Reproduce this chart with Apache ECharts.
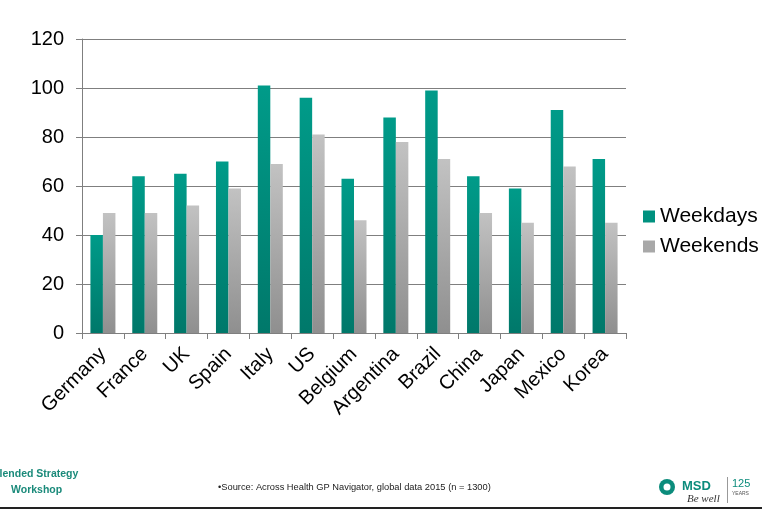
<!DOCTYPE html>
<html><head><meta charset="utf-8">
<script src="https://cdn.jsdelivr.net/npm/echarts@6/dist/echarts.min.js"></script>
<style>html,body{margin:0;padding:0;background:#fff}#c{width:762px;height:512px}</style>
</head><body><div id="c"></div>
<script>
const categories = ['Germany','France','UK','Spain','Italy','US','Belgium','Argentina','Brazil','China','Japan','Mexico','Korea'];
const weekdays = [40,64,65,70,101,96,63,88,99,64,59,91,71];
const weekends = [49,49,52,59,69,81,46,78,71,49,45,68,45];
const yTicks = [0,20,40,60,80,100,120];

const chart = echarts.init(document.getElementById('c'));
const tealGrad = new echarts.graphic.LinearGradient(0,0,0,1,[{offset:0,color:'#009b89'},{offset:1,color:'#00786a'}]);
const grayGrad = new echarts.graphic.LinearGradient(0,0,0,1,[{offset:0,color:'#c2c2c2'},{offset:1,color:'#8f8f8f'}]);
chart.setOption({
  animation:false,
  textStyle:{fontFamily:'Liberation Sans, Arial, sans-serif'},
  grid:{left:82,right:136,top:39,bottom:179},
  legend:{
    orient:'vertical', left:638, top:201, itemWidth:12, itemHeight:12, itemGap:9,
    icon:'rect',
    textStyle:{fontSize:21,color:'#000',padding:[0,0,0,0]},
    data:[{name:'Weekdays',itemStyle:{color:'#00917f'}},{name:'Weekends',itemStyle:{color:'#a8a8a8'}}]
  },
  xAxis:{
    type:'category', data:categories,
    axisLine:{lineStyle:{color:'#7f7f7f',width:1}},
    axisTick:{show:true,length:6,lineStyle:{color:'#7f7f7f'}},
    axisLabel:{rotate:45,fontSize:20,color:'#000',margin:18,interval:0}
  },
  yAxis:{
    type:'value', min:yTicks[0], max:yTicks[yTicks.length-1], interval:20,
    axisLine:{show:true,lineStyle:{color:'#7f7f7f'}},
    axisTick:{show:true,length:6,lineStyle:{color:'#7f7f7f'}},
    axisLabel:{fontSize:20,color:'#000',margin:18},
    splitLine:{lineStyle:{color:'#7f7f7f',width:1}}
  },
  series:[
    {name:'Weekdays',type:'bar',data:weekdays,barWidth:12.5,barGap:'0%',itemStyle:{color:tealGrad}},
    {name:'Weekends',type:'bar',data:weekends,barWidth:12.5,barGap:'0%',itemStyle:{color:grayGrad}}
  ],
  graphic:[
    {type:'text',left:-8,top:469,style:{text:'Blended Strategy',fontSize:10.5,fontWeight:'bold',fill:'#1a8a7a',fontFamily:'Liberation Sans, Arial'}},
    {type:'text',left:11,top:485,style:{text:'Workshop',fontSize:10.5,fontWeight:'bold',fill:'#1a8a7a',fontFamily:'Liberation Sans, Arial'}},
    {type:'text',left:218,top:483,style:{text:'\u2022Source: Across Health GP Navigator, global data 2015 (n = 1300)',fontSize:9.3,fill:'#222',fontFamily:'Liberation Sans, Arial'}},
    {type:'circle',shape:{cx:667,cy:487,r:8},style:{fill:'#0c8c7c'}},
    {type:'circle',shape:{cx:667,cy:487,r:3.5},style:{fill:'#fff'}},
    {type:'text',left:682,top:480,style:{text:'MSD',fontSize:13,fontWeight:'bold',fill:'#0c8c7c',fontFamily:'Liberation Sans, Arial'}},
    {type:'text',left:687,top:494,style:{text:'Be well',fontSize:11,fontStyle:'italic',fill:'#333',fontFamily:'Liberation Serif, serif'}},
    {type:'rect',shape:{x:727,y:477,width:1,height:26},style:{fill:'#999'}},
    {type:'text',left:732,top:478,style:{text:'125',fontSize:11,fill:'#0c8c7c',fontFamily:'Liberation Sans, Arial'}},
    {type:'text',left:732,top:491,style:{text:'YEARS',fontSize:5,fill:'#555',fontFamily:'Liberation Sans, Arial'}},
    {type:'rect',shape:{x:0,y:507,width:762,height:2},style:{fill:'#222'}}
  ]
});
</script></body></html>
